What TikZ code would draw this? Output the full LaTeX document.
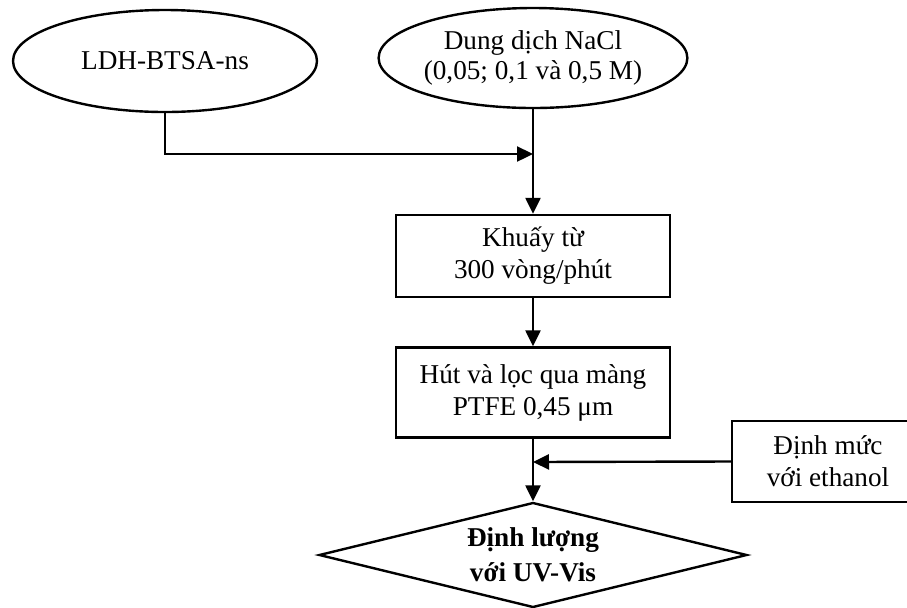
\documentclass[tikz,border=0pt]{standalone}
\usepackage{fontspec}
\setmainfont{Liberation Serif}
\usetikzlibrary{shapes.geometric,arrows.meta}

\tikzset{
  flow/.style={line width=1.2pt, -{Triangle[length=8pt,width=7.5pt]}},
  oval/.style={ellipse, draw, line width=1.2pt, inner sep=0pt, align=center,
               font=\fontsize{13.6pt}{15pt}\selectfont},
  stepbox/.style={rectangle, draw, line width=1.2pt, inner sep=0pt, align=center,
                  font=\fontsize{13.6pt}{16pt}\selectfont},
  decide/.style={diamond, draw, line width=1.2pt, inner sep=0pt, align=center,
                 shape aspect=4.1,
                 font=\bfseries\fontsize{13.6pt}{17.5pt}\selectfont}
}

\begin{document}
\begin{tikzpicture}[x=0.5pt, y=-0.5pt]
  \useasboundingbox (0,0) rectangle (907,607);

  % inputs
  \node[oval, minimum width=152pt, minimum height=51pt] (ldh) at (165,61) {LDH-BTSA-ns};
  \node[oval, minimum width=151.5pt, minimum height=50pt] (nacl) at (533,58)
       {Dung dịch NaCl\\(0,05; 0,1 và 0,5 M)};

  % process steps
  \node[stepbox, minimum width=137pt, minimum height=41pt] (stir) at (533,256)
       {Khuấy từ\\300 vòng/phút};
  \node[stepbox, minimum width=137pt, minimum height=45pt] (filt) at (533,392.5)
       {Hút và lọc qua màng\\PTFE 0,45 μm};
  \node[stepbox, minimum width=96pt, minimum height=40.5pt] (dilute) at (828,461.5)
       {Định mức\\với ethanol};

  % final measurement
  \node[decide, minimum width=214pt, minimum height=52.5pt] (uv) at (533,555)
       {Định lượng\\với UV-Vis};

  % junction points on the main line
  \coordinate (j1) at (533,154);
  \coordinate (j2) at (533,462);

  % connectors
  \draw[flow] (ldh.south) |- (j1);
  \draw[flow] (nacl.south) -- (stir.north);
  \draw[flow] (stir.south) -- (filt.north);
  \draw[flow] (filt.south) -- (uv.north);
  \draw[flow] (dilute.west) -- (j2);
\end{tikzpicture}
\end{document}
